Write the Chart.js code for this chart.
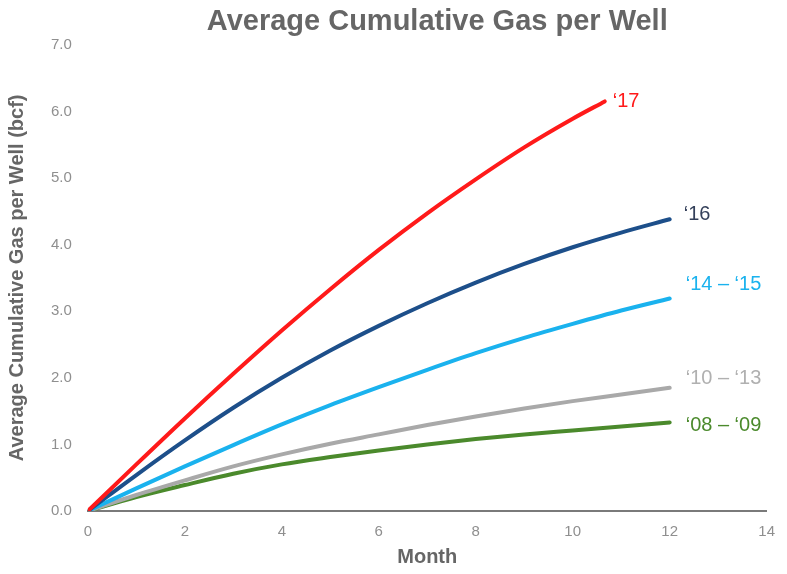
<!DOCTYPE html>
<html>
<head>
<meta charset="utf-8">
<script src="https://cdn.jsdelivr.net/npm/chart.js@4/dist/chart.umd.min.js"></script>
<style>
  html, body { margin: 0; padding: 0; background: #fff; }
  #wrap { width: 787px; height: 574px; }
</style>
</head>
<body>
<div id="wrap"><canvas id="c" width="787" height="574"></canvas></div>
<script>
// Months since first production
const months = [0, 1, 2, 3, 4, 5, 6, 7, 8, 9, 10, 11, 12];
const months17 = [0, 1, 2, 3, 4, 5, 6, 7, 8, 9, 10, 10.66];

// Average cumulative gas per well (bcf) by vintage
const gas17 = [0, 0.70, 1.39, 2.06, 2.71, 3.33, 3.92, 4.47, 4.98, 5.46, 5.89, 6.15];
const gas16 = [0, 0.54, 1.06, 1.55, 2.00, 2.41, 2.78, 3.12, 3.43, 3.71, 3.96, 4.18, 4.38];
const gas1415 = [0, 0.34, 0.67, 0.99, 1.30, 1.59, 1.86, 2.12, 2.37, 2.60, 2.81, 3.01, 3.19];
const gas1013 = [0, 0.24, 0.46, 0.67, 0.85, 1.01, 1.15, 1.29, 1.42, 1.54, 1.65, 1.75, 1.85];
const gas0809 = [0, 0.21, 0.39, 0.56, 0.70, 0.81, 0.91, 1.00, 1.08, 1.15, 1.21, 1.27, 1.33];

const seriesLabels = ['\u201817', '\u201816', '\u201814 \u2013 \u201815', '\u201810 \u2013 \u201813', '\u201808 \u2013 \u201809'];

const xTicks = [0, 2, 4, 6, 8, 10, 12, 14];

const pts = (xs, ys) => ys.map((y, i) => ({ x: xs[i], y }));

const lineColors = ['#ff1a1a', '#1d4f8a', '#1ab2ee', '#a9a9a9', '#4b8a2c'];
const textColors = ['#ff1a1a', '#34405a', '#1ab2ee', '#b0b0b0', '#4b8a2c'];
// label nudges relative to each line's end point
const labelNudge = [[8, 0], [14, -5], [16, -14], [16, -9], [16, 3]];

const endLabels = {
  id: 'endLabels',
  afterDatasetsDraw(chart) {
    const ctx = chart.ctx;
    ctx.save();
    ctx.font = '20px "Liberation Sans", Arial, sans-serif';
    ctx.textBaseline = 'middle';
    ctx.textAlign = 'left';
    chart.data.datasets.forEach((ds, i) => {
      const meta = chart.getDatasetMeta(i);
      const p = meta.data[meta.data.length - 1];
      ctx.fillStyle = textColors[i];
      ctx.fillText(seriesLabels[i], p.x + labelNudge[i][0], p.y + labelNudge[i][1]);
    });
    ctx.restore();
  }
};

// nudge the title a little to the right of the plot centre
const titleShift = {
  id: 'titleShift',
  afterLayout(chart) {
    const t = chart.titleBlock;
    if (t) { t.left += 10; t.right += 10; }
  }
};

const datasets = [
  { data: pts(months17, gas17) },
  { data: pts(months, gas16) },
  { data: pts(months, gas1415) },
  { data: pts(months, gas1013) },
  { data: pts(months, gas0809) }
].map((d, i) => Object.assign(d, {
  label: seriesLabels[i],
  borderColor: lineColors[i],
  backgroundColor: lineColors[i],
  borderWidth: 4,
  pointRadius: 0,
  fill: false,
  cubicInterpolationMode: 'monotone',
  borderCapStyle: 'round'
}));

Chart.defaults.font.family = '"Liberation Sans", Arial, sans-serif';

new Chart(document.getElementById('c'), {
  type: 'line',
  data: { datasets },
  options: {
    responsive: false,
    animation: false,
    layout: { padding: { top: 3, right: 17, bottom: 5, left: 5 } },
    plugins: {
      legend: { display: false },
      tooltip: { enabled: false },
      title: {
        display: true,
        text: 'Average Cumulative Gas per Well',
        color: '#666666',
        fullSize: false,
        font: { size: 29, weight: 'bold' },
        padding: { top: 2, bottom: 5 }
      }
    },
    scales: {
      x: {
        type: 'linear',
        min: 0,
        max: 14,
        afterBuildTicks(axis) { axis.ticks = xTicks.map(v => ({ value: v })); },
        grid: { display: false, drawTicks: false },
        border: { display: true, color: '#7a7a7a', width: 2 },
        ticks: { color: '#8f8f8f', font: { size: 15 }, padding: 12 },
        title: {
          display: true,
          text: 'Month',
          color: '#666666',
          font: { size: 20, weight: 'bold' },
          padding: { top: -8, bottom: 0 }
        }
      },
      y: {
        min: 0,
        max: 7,
        grid: { display: false, drawTicks: false },
        border: { display: false },
        ticks: {
          stepSize: 1,
          color: '#8f8f8f',
          font: { size: 15 },
          padding: 16,
          callback: v => v.toFixed(1)
        },
        title: {
          display: true,
          text: 'Average Cumulative Gas per Well (bcf)',
          color: '#666666',
          font: { size: 20, weight: 'bold' },
          padding: { top: 0, bottom: 6 }
        }
      }
    }
  },
  plugins: [endLabels, titleShift]
});
</script>
</body>
</html>
